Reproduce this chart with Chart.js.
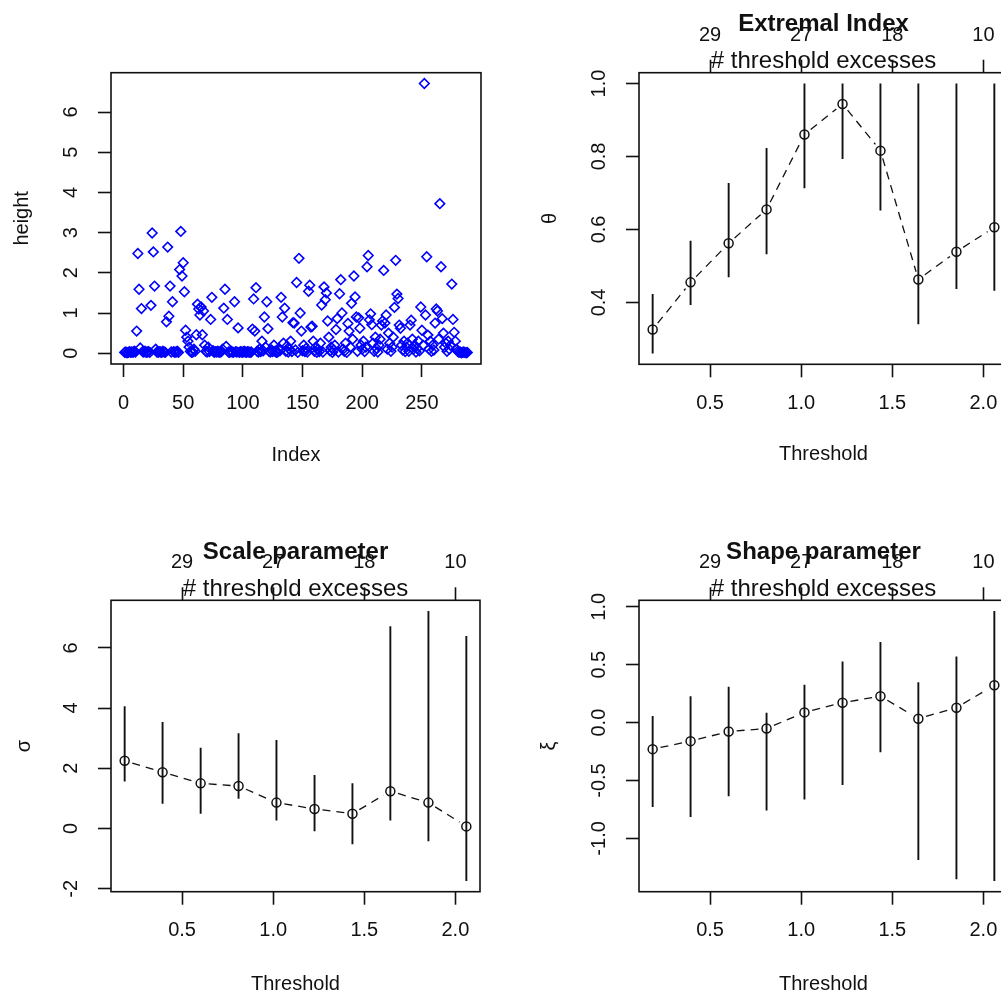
<!DOCTYPE html>
<html>
<head>
<meta charset="utf-8">
<title>Threshold diagnostics</title>
<script src="https://cdn.jsdelivr.net/npm/chart.js@4.4.1/dist/chart.umd.min.js"></script>
<style>
  html, body { margin: 0; padding: 0; width: 1001px; height: 997px; overflow: hidden; background: #fff; }
  canvas { position: absolute; display: block; }
</style>
</head>
<body>
<canvas id="heightPlot" width="500" height="500" style="left:0;top:0"></canvas>
<canvas id="thetaPlot" width="520" height="500" style="left:500px;top:0"></canvas>
<canvas id="sigmaPlot" width="500" height="497" style="left:0;top:500px"></canvas>
<canvas id="xiPlot" width="520" height="497" style="left:500px;top:500px"></canvas>
<script>
'use strict';

var FONT = '"Liberation Sans", Arial, Helvetica, sans-serif';
var INK  = '#111111';
var TICK = 13;

// observed heights, in index order
var heights = [
    0.02, 0.03, 0.01, 0.02, 0.04, 0.02, 0.03, 0.02, 0.05, 0.03, 0.55, 2.48,
    1.59, 0.13, 1.11, 0.04, 0.03, 0.05, 0.02, 0.03, 0.04, 0.02, 1.19, 2.99,
    2.52, 1.67, 0.10, 0.03, 0.02, 0.04, 0.03, 0.02, 0.05, 0.03, 0.02, 0.78,
    2.64, 0.92, 1.67, 0.03, 1.28, 0.04, 0.02, 0.03, 0.05, 0.02, 2.08, 3.03,
    1.92, 2.25, 1.53, 0.57, 0.40, 0.30, 0.15, 0.05, 0.02, 0.03, 0.10, 0.05,
    0.46, 1.22, 1.10, 0.95, 1.15, 0.46, 1.05, 0.20, 0.05, 0.03, 0.15, 0.04,
    0.84, 1.39, 0.06, 0.02, 0.04, 0.03, 0.05, 0.02, 0.03, 0.04, 0.10, 1.12,
    1.59, 0.17, 0.84, 0.03, 0.02, 0.05, 0.03, 0.02, 1.28, 0.04, 0.03, 0.63,
    0.02, 0.04, 0.03, 0.02, 0.05, 0.03, 0.02, 0.04, 0.03, 0.02, 0.03, 0.60,
    1.35, 0.55, 1.63, 0.05, 0.03, 0.10, 0.04, 0.30, 0.06, 0.90, 0.15, 1.28,
    0.61, 0.05, 0.03, 0.08, 0.04, 0.20, 0.05, 0.02, 0.03, 0.12, 0.06, 1.39,
    0.90, 0.25, 1.12, 0.05, 0.18, 0.03, 0.10, 0.30, 0.04, 0.76, 0.75, 0.08,
    1.76, 0.02, 2.36, 1.00, 0.55, 0.06, 0.20, 0.04, 0.12, 0.03, 1.54, 1.69,
    0.65, 0.67, 0.30, 0.05, 0.15, 0.02, 0.10, 0.04, 0.25, 1.20, 0.03, 1.65,
    1.33, 1.50, 0.80, 0.40, 0.06, 0.15, 0.02, 0.08, 0.20, 0.59, 0.86, 0.03,
    1.48, 1.83, 1.00, 0.10, 0.05, 0.25, 0.02, 0.74, 0.55, 0.15, 1.24, 0.35,
    1.92, 1.40, 0.90, 0.05, 0.88, 0.62, 0.20, 0.10, 0.30, 0.04, 0.15, 2.15,
    2.43, 0.83, 0.98, 0.71, 0.25, 0.05, 0.40, 0.12, 0.03, 0.20, 0.35, 0.70,
    0.80, 2.06, 0.75, 0.95, 0.10, 0.50, 0.25, 0.05, 0.15, 0.40, 1.14, 2.31,
    1.47, 1.36, 0.70, 0.62, 0.20, 0.08, 0.30, 0.04, 0.15, 0.25, 0.05, 0.70,
    0.82, 0.35, 0.10, 0.20, 0.03, 0.12, 0.30, 0.06, 1.15, 0.57, 0.20, 6.71,
    0.95, 2.40, 0.45, 0.10, 0.30, 0.05, 0.20, 0.08, 0.75, 1.10, 1.05, 0.35,
    3.72, 2.15, 0.86, 0.50, 0.15, 0.25, 0.05, 0.30, 0.10, 0.20, 1.72, 0.84,
    0.52, 0.30, 0.10, 0.05, 0.02, 0.03, 0.01, 0.02, 0.03, 0.02, 0.01, 0.02
];
var indexTicks  = [0, 50, 100, 150, 200, 250];
var heightTicks = [0, 1, 2, 3, 4, 5, 6];

// thresholds tried and the fits at each one
var thresholds = [0.185, 0.393, 0.602, 0.810, 1.018, 1.227, 1.435, 1.643, 1.852, 2.060];
var thresholdTicks = [0.5, 1.0, 1.5, 2.0];
var excessCounts   = ['29', '27', '18', '10'];

var theta      = [0.326, 0.455, 0.562, 0.655, 0.860, 0.944, 0.816, 0.463, 0.539, 0.606];
var thetaLower = [0.260, 0.393, 0.469, 0.532, 0.713, 0.793, 0.652, 0.340, 0.437, 0.432];
var thetaUpper = [0.423, 0.569, 0.727, 0.823, 1.000, 1.000, 1.000, 1.000, 1.000, 1.000];
var thetaTicks = [0.4, 0.6, 0.8, 1.0];

var sigma      = [2.25, 1.87, 1.50, 1.41, 0.86, 0.65, 0.49, 1.24, 0.86, 0.07];
var sigmaLower = [1.56, 0.82, 0.49, 0.99, 0.27, -0.09, -0.52, 0.27, -0.42, -1.74];
var sigmaUpper = [4.06, 3.54, 2.68, 3.16, 2.94, 1.78, 1.50, 6.72, 7.22, 6.39];
var sigmaTicks = [-2, 0, 2, 4, 6];

var xi      = [-0.229, -0.160, -0.077, -0.051, 0.088, 0.172, 0.228, 0.034, 0.129, 0.322];
var xiLower = [-0.729, -0.815, -0.635, -0.758, -0.664, -0.538, -0.257, -1.187, -1.352, -1.367];
var xiUpper = [0.057, 0.228, 0.309, 0.086, 0.326, 0.528, 0.697, 0.348, 0.571, 0.963];
var xiTicks = [-1.0, -0.5, 0.0, 0.5, 1.0];

Chart.defaults.font.family = FONT;
Chart.defaults.font.size = 20;
Chart.defaults.color = INK;
Chart.defaults.animation = false;
Chart.defaults.plugins.legend.display = false;
Chart.defaults.plugins.tooltip.enabled = false;

function textWidth(labels) {
    var c = document.createElement('canvas').getContext('2d');
    c.font = '20px ' + FONT;
    return Math.max.apply(null, labels.map(function (l) { return c.measureText(l).width; }));
}

function fixedTicks(values) {
    return function (scale) {
        scale.ticks = values.map(function (v) { return { value: v }; });
    };
}

var tickGrid = {
    display: true, drawOnChartArea: false, drawTicks: true,
    tickLength: TICK, tickWidth: 1.6, tickColor: INK
};

function axisY(box, min, max, values, digits, title, titleX) {
    var labels = values.map(function (v) { return v.toFixed(digits); });
    var widest = textWidth(labels);
    return {
        type: 'linear', position: 'left', min: min, max: max,
        afterBuildTicks: fixedTicks(values),
        afterFit: function (s) { s.width = box.left; },
        ticks: {
            autoSkip: false, minRotation: 90, maxRotation: 90, crossAlign: 'center',
            padding: 39.5 - TICK - widest / 2,
            callback: function (v) { return Number(v).toFixed(digits); }
        },
        grid: tickGrid,
        border: { display: false },
        title: { display: true, text: title, padding: { top: titleX - 12, bottom: 0 } }
    };
}

function axisX(box, height, min, max, values, digits, title, titleY) {
    return {
        type: 'linear', position: 'bottom', min: min, max: max,
        afterBuildTicks: fixedTicks(values),
        afterFit: function (s) { s.height = height - box.bottom; },
        ticks: {
            autoSkip: false, minRotation: 0, maxRotation: 0,
            padding: 39 - TICK - 12,
            callback: function (v) { return Number(v).toFixed(digits); }
        },
        grid: tickGrid,
        border: { display: false },
        title: { display: true, text: title, padding: { top: 0, bottom: height - titleY - 12 } }
    };
}

// second x axis on top: number of excesses at each threshold
function axisTop(box, min, max) {
    return {
        type: 'linear', position: 'top', min: min, max: max,
        afterBuildTicks: fixedTicks(thresholdTicks),
        afterFit: function (s) { s.height = box.top; },
        ticks: {
            autoSkip: false, minRotation: 0, maxRotation: 0,
            padding: 37.5 - TICK - 12,
            callback: function (v, i) { return excessCounts[i]; }
        },
        grid: tickGrid,
        border: { display: false }
    };
}

var frame = {
    id: 'frame',
    afterDatasetsDraw: function (chart) {
        var a = chart.chartArea, ctx = chart.ctx;
        ctx.save();
        ctx.strokeStyle = INK;
        ctx.lineWidth = 1.6;
        ctx.strokeRect(a.left, a.top, a.right - a.left, a.bottom - a.top);
        ctx.restore();
    }
};

var headings = {
    id: 'headings',
    afterDraw: function (chart, args, opts) {
        if (!opts.main) return;
        var a = chart.chartArea, ctx = chart.ctx;
        var cx = (a.left + a.right) / 2;
        ctx.save();
        ctx.fillStyle = INK;
        ctx.textAlign = 'center';
        ctx.textBaseline = 'alphabetic';
        ctx.font = 'bold 24px ' + FONT;
        ctx.fillText(opts.main, cx, a.top - 41.5);
        ctx.font = '24px ' + FONT;
        ctx.fillText(opts.sub, cx, a.top - 4.5);
        ctx.restore();
    }
};

// dashed joins between estimates that stop short of each circle
var GAP = 8;
var gappedLine = {
    id: 'gappedLine',
    afterDatasetsDraw: function (chart) {
        var ctx = chart.ctx;
        chart.data.datasets.forEach(function (ds, i) {
            if (!ds.gapLine) return;
            var pts = chart.getDatasetMeta(i).data;
            ctx.save();
            ctx.strokeStyle = INK;
            ctx.lineWidth = 1.3;
            ctx.setLineDash([8, 6]);
            for (var k = 1; k < pts.length; k++) {
                var a = pts[k - 1], b = pts[k];
                var dx = b.x - a.x, dy = b.y - a.y, len = Math.hypot(dx, dy);
                if (len <= 2 * GAP) continue;
                var ux = dx / len, uy = dy / len;
                ctx.beginPath();
                ctx.moveTo(a.x + ux * GAP, a.y + uy * GAP);
                ctx.lineTo(b.x - ux * GAP, b.y - uy * GAP);
                ctx.stroke();
            }
            ctx.restore();
        });
    }
};

function thresholdDatasets(est, lower, upper) {
    var sets = [{
        data: thresholds.map(function (t, i) { return { x: t, y: est[i] }; }),
        showLine: false,
        gapLine: true,
        pointStyle: 'circle',
        pointRadius: 4.5,
        pointBorderWidth: 1.5,
        pointBorderColor: INK,
        pointBackgroundColor: 'rgba(0,0,0,0)'
    }];
    thresholds.forEach(function (t, i) {
        sets.push({
            data: [{ x: t, y: lower[i] }, { x: t, y: upper[i] }],
            showLine: true,
            borderColor: INK,
            borderWidth: 1.9,
            pointRadius: 0
        });
    });
    return sets;
}

function thresholdPanel(id, box, yMin, yMax, yTicks, digits, symbol, symbolX, titleY, main) {
    var cvs = document.getElementById(id);
    return new Chart(cvs, {
        type: 'scatter',
        data: { datasets: main.datasets },
        options: {
            responsive: false,
            layout: { padding: { left: 0, top: 0, right: cvs.width - box.right, bottom: 0 } },
            scales: {
                x: axisX(box, cvs.height, 0.11, 2.135, thresholdTicks, 1, 'Threshold', titleY),
                x2: axisTop(box, 0.11, 2.135),
                y: axisY(box, yMin, yMax, yTicks, digits, symbol, symbolX)
            },
            plugins: { headings: { main: main.title, sub: '# threshold excesses' } }
        },
        plugins: [frame, gappedLine, headings]
    });
}

// index plot of the raw heights
var HEIGHTPLOT = document.getElementById('heightPlot');
var heightBox = { left: 111, top: 72.7, right: 481, bottom: 364 };
new Chart(HEIGHTPLOT, {
    type: 'scatter',
    data: {
        datasets: [{
            data: heights.map(function (h, i) { return { x: i + 1, y: h }; }),
            pointStyle: 'rectRot',
            pointRadius: 4.8,
            pointBorderWidth: 1.6,
            pointBorderColor: '#0000ff',
            pointBackgroundColor: 'rgba(0,0,0,0)'
        }]
    },
    options: {
        responsive: false,
        layout: { padding: { left: 0, top: heightBox.top, right: HEIGHTPLOT.width - heightBox.right, bottom: 0 } },
        scales: {
            x: axisX(heightBox, HEIGHTPLOT.height, -10.48, 299.48, indexTicks, 0, 'Index', 455),
            y: axisY(heightBox, -0.2684, 6.978, heightTicks, 0, 'height', 22)
        }
    },
    plugins: [frame]
});

thresholdPanel('thetaPlot', { left: 139, top: 72.7, right: 508, bottom: 364.3 },
    0.2304, 1.0296, thetaTicks, 1, 'θ', 50, 454,
    { title: 'Extremal Index', datasets: thresholdDatasets(theta, thetaLower, thetaUpper) });

thresholdPanel('sigmaPlot', { left: 111, top: 100.3, right: 480, bottom: 391.7 },
    -2.098, 7.578, sigmaTicks, 0, 'σ', 24, 484,
    { title: 'Scale parameter', datasets: thresholdDatasets(sigma, sigmaLower, sigmaUpper) });

thresholdPanel('xiPlot', { left: 139, top: 100.3, right: 508, bottom: 391.7 },
    -1.46, 1.056, xiTicks, 1, 'ξ', 49, 484,
    { title: 'Shape parameter', datasets: thresholdDatasets(xi, xiLower, xiUpper) });
</script>
</body>
</html>
